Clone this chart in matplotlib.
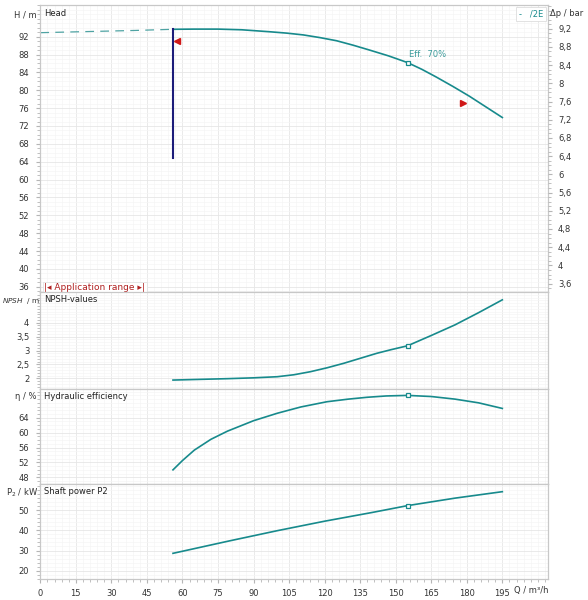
import matplotlib
matplotlib.use("Agg")
import matplotlib.pyplot as plt
from matplotlib.ticker import MultipleLocator, FuncFormatter

# pump curve values (Q in m3/h)
q_dash = [0, 20, 40, 56]
h_dash = [92.9, 93.15, 93.4, 93.66]

q_head = [56, 65, 75, 85, 97, 104, 111, 118, 125, 132, 139, 147, 155, 161, 167, 174, 181, 188, 195]
h_head = [93.66, 93.7, 93.7, 93.55, 93.1, 92.8, 92.4, 91.8, 91.1, 90.1, 89.0, 87.7, 86.2, 84.7,
          83.0, 80.9, 78.7, 76.3, 73.9]

q_npsh = [56, 65, 79, 90, 100, 107, 114, 121, 128, 135, 142, 148, 155, 165, 175, 185, 195]
npsh = [1.94, 1.96, 1.99, 2.02, 2.06, 2.13, 2.24, 2.38, 2.54, 2.72, 2.90, 3.03, 3.17, 3.54, 3.92,
        4.36, 4.82]

q_eff = [56, 60, 65, 72, 79, 90, 100, 110, 121, 130, 138, 146, 155, 165, 175, 185, 195]
eff = [50.0, 52.5, 55.3, 58.2, 60.4, 63.2, 65.2, 66.9, 68.3, 69.0, 69.5, 69.85, 70.0, 69.7, 69.0,
       68.0, 66.5]

q_pow = [56, 80, 100, 120, 140, 155, 175, 195]
p2 = [28.6, 34.8, 39.8, 44.5, 48.8, 52.2, 55.9, 59.1]

# duty point and limits
q_duty = 155
h_duty = 86.2
npsh_duty = 3.17
eff_duty = 70.0
p2_duty = 52.2
q_min = 56
h_min_line = [64.9, 93.66]
q_left_mark, h_left_mark = 57.5, 91.1
q_right_mark, h_right_mark = 178.4, 77.1

x_ticks = list(range(0, 196, 15))
head_ticks = list(range(36, 93, 4))
dp_ticks = [3.6, 4.0, 4.4, 4.8, 5.2, 5.6, 6.0, 6.4, 6.8, 7.2, 7.6, 8.0, 8.4, 8.8, 9.2]
npsh_ticks = [2, 2.5, 3, 3.5, 4]
eff_ticks = [48, 52, 56, 60, 64]
pow_ticks = [20, 30, 40, 50]

teal = "#178a8c"
navy = "#1c1c7a"
red = "#d01818"
grey_txt = "#333333"
rho_g = 0.0981  # bar per metre of head

def comma(v, pos):
    s = ("%.1f" % v).rstrip("0").rstrip(".")
    return s.replace(".", ",")

fig = plt.figure(figsize=(5.88, 6.0), dpi=100)
L, W = 40.3 / 588, 508 / 588
panels = [(5, 292.3), (292.3, 388.7), (388.7, 484), (484, 579)]
axes = []
for top, bot in panels:
    ax = fig.add_axes([L, 1 - bot / 600, W, (bot - top) / 600])
    axes.append(ax)

ax_h, ax_n, ax_e, ax_p = axes

for ax in axes:
    ax.set_xlim(0, 214.4)
    ax.xaxis.set_major_locator(MultipleLocator(15))
    ax.xaxis.set_minor_locator(MultipleLocator(3))
    ax.grid(True, which="major", color="#e6e6e6", lw=0.6)
    ax.grid(True, which="minor", color="#f5f5f5", lw=0.5)
    ax.set_axisbelow(True)
    for s in ax.spines.values():
        s.set_color("#c8c8c8")
        s.set_linewidth(0.9)
    ax.tick_params(which="both", colors="#b5b5b5", labelcolor=grey_txt, labelsize=6)
    ax.tick_params(which="major", length=3, pad=5)
    ax.tick_params(which="minor", length=2)
    ax.tick_params(axis="x", labelbottom=False)
    ax.yaxis.set_major_formatter(FuncFormatter(comma))

ax_p.tick_params(axis="x", labelbottom=True)
ax_p.set_xticks(x_ticks)

# head panel
ax_h.set_ylim(34.75, 99.1)
ax_h.set_yticks(head_ticks)
ax_h.yaxis.set_minor_locator(MultipleLocator(1))
ax_h.plot(q_dash, h_dash, color="#4fa3a3", lw=0.9, ls=(0, (7, 5)))
ax_h.plot(q_head, h_head, color=teal, lw=1.2)
ax_h.plot([q_min, q_min], h_min_line, color=navy, lw=1.5)
ax_h.plot(q_duty, h_duty, marker="s", ms=3.5, mfc="white", mec=teal, mew=0.9)
ax_h.text(q_duty + 0.5, h_duty + 0.9, "Eff.  70%", color="#3a9a9a", fontsize=6, va="bottom")
ax_h.plot(q_left_mark, h_left_mark, marker="<", ms=4, color=red, ls="none")
ax_h.plot(q_right_mark, h_right_mark, marker=">", ms=4, color=red, ls="none")

ax_dp = ax_h.twinx()
ax_dp.set_ylim(34.75 * rho_g, 99.1 * rho_g)
ax_dp.set_yticks(dp_ticks)
ax_dp.yaxis.set_minor_locator(MultipleLocator(0.1))
ax_dp.yaxis.set_major_formatter(FuncFormatter(comma))
ax_dp.tick_params(which="both", colors="#b5b5b5", labelcolor=grey_txt, labelsize=6)
ax_dp.tick_params(which="major", length=3, pad=4)
ax_dp.tick_params(which="minor", length=2)
ax_dp.set_ylim(34.75 * rho_g, 99.1 * rho_g)
for s in ax_dp.spines.values():
    s.set_visible(False)

ax_h.text(0.008, 0.985, "Head", transform=ax_h.transAxes, fontsize=6, va="top", color="#222222")
ax_h.text(0.99, 0.985, "-   /2E", transform=ax_h.transAxes, fontsize=6, va="top", ha="right",
          color=teal, bbox=dict(boxstyle="square,pad=0.3", fc="white", ec="#dddddd", lw=0.6))
ax_h.text(0.008, 0.0, "|\u25c2 Application range \u25b8|", transform=ax_h.transAxes, fontsize=6.5,
          va="bottom", color="#b02020",
          bbox=dict(boxstyle="square,pad=0.15", fc="white", ec="#dddddd", lw=0.5))

# NPSH panel
ax_n.set_ylim(1.63, 5.09)
ax_n.set_yticks(npsh_ticks)
ax_n.yaxis.set_minor_locator(MultipleLocator(0.1))
ax_n.plot(q_npsh, npsh, color=teal, lw=1.2)
ax_n.plot(q_duty, npsh_duty, marker="s", ms=3.5, mfc="white", mec=teal, mew=0.9)
ax_n.text(0.008, 0.97, "NPSH-values", transform=ax_n.transAxes, fontsize=6, va="top", color="#222222")

# efficiency panel
ax_e.set_ylim(46.2, 71.8)
ax_e.set_yticks(eff_ticks)
ax_e.yaxis.set_minor_locator(MultipleLocator(1))
ax_e.plot(q_eff, eff, color=teal, lw=1.2)
ax_e.plot(q_duty, eff_duty, marker="s", ms=3.5, mfc="white", mec=teal, mew=0.9)
ax_e.text(0.008, 0.97, "Hydraulic efficiency", transform=ax_e.transAxes, fontsize=6, va="top", color="#222222")

# power panel
ax_p.set_ylim(15.9, 62.9)
ax_p.set_yticks(pow_ticks)
ax_p.yaxis.set_minor_locator(MultipleLocator(2))
ax_p.plot(q_pow, p2, color=teal, lw=1.2)
ax_p.plot(q_duty, p2_duty, marker="s", ms=3.5, mfc="white", mec=teal, mew=0.9)
ax_p.text(0.008, 0.97, "Shaft power P2", transform=ax_p.transAxes, fontsize=6, va="top", color="#222222")
ax_p.tick_params(axis="x", pad=4)

# axis titles
fig.text(25 / 588, 1 - 15 / 600, "H / m", fontsize=6, ha="center", va="center", color=grey_txt)
fig.text(2 / 588, 1 - 301 / 600, "$\\it{NPSH}$  / m", fontsize=5.3, ha="left", va="center", color=grey_txt)
fig.text(26 / 588, 1 - 396.5 / 600, "\u03b7 / %", fontsize=6, ha="center", va="center", color=grey_txt)
fig.text(22 / 588, 1 - 492.5 / 600, "P$_2$ / kW", fontsize=6, ha="center", va="center", color=grey_txt)
fig.text(567 / 588, 1 - 14 / 600, "\u0394p / bar", fontsize=6, ha="center", va="center", color=grey_txt)
fig.text(548 / 588, 1 - 590.5 / 600, "Q / m\u00b3/h", fontsize=6, ha="right", va="center", color=grey_txt)

fig.savefig("out.png", dpi=100)
